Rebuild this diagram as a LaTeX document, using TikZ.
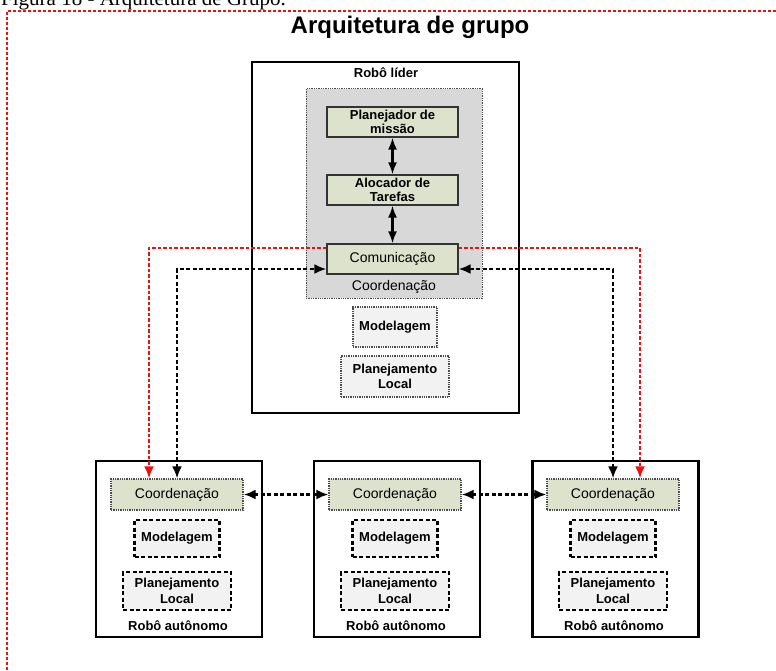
\documentclass[tikz,border=0pt]{standalone}
\usepackage{fontspec}
\setmainfont{Liberation Sans}
\newfontfamily\capfont{Liberation Serif}
\usetikzlibrary{arrows.meta}
\definecolor{olivebox}{RGB}{221,226,205}
\definecolor{coordgray}{RGB}{216,216,216}
\definecolor{lightbox}{RGB}{242,242,242}
\definecolor{linkred}{RGB}{230,20,20}
\begin{document}
\begin{tikzpicture}[x=1pt,y=-1pt,
  robotbox/.style={draw=black,line width=2.2pt,fill=white,rectangle,inner sep=0pt},
  regionbox/.style={draw=black!70,line width=1pt,dash pattern=on 1.3pt off 1pt,fill=coordgray,rectangle,inner sep=0pt},
  taskbox/.style={draw=black!80,line width=1.2pt,fill=olivebox,rectangle,inner sep=0pt,align=center,font=\bfseries\fontsize{13}{15}\selectfont},
  commbox/.style={taskbox,font=\fontsize{14}{15}\selectfont},
  coordbox/.style={draw=black!70,line width=1.2pt,dash pattern=on 1.3pt off 1pt,fill=olivebox,rectangle,inner sep=0pt,font=\fontsize{14}{15}\selectfont},
  softbox/.style={draw=black!70,line width=1.1pt,dash pattern=on 1.3pt off 1pt,fill=lightbox,rectangle,inner sep=0pt,align=center,font=\bfseries\fontsize{13}{15.5}\selectfont},
  hardbox/.style={draw=black,line width=2.2pt,dash pattern=on 4pt off 2.5pt,fill=lightbox,rectangle,inner sep=0pt,align=center,font=\bfseries\fontsize{13}{15.5}\selectfont},
  boxlabel/.style={font=\bfseries\fontsize{13}{15}\selectfont,inner sep=0pt},
  solidlink/.style={line width=2.2pt,{Latex[length=12pt,width=9pt]}-{Latex[length=12pt,width=9pt]}},
  blacklink/.style={line width=2.3pt,dash pattern=on 4pt off 2.5pt},
  redlink/.style={draw=linkred,line width=2.2pt,dash pattern=on 3.5pt off 2pt},
  tip/.style={-{Latex[length=12pt,width=10pt]}},
  bothtips/.style={{Latex[length=12pt,width=10pt]}-{Latex[length=12pt,width=10pt]}}
]
\useasboundingbox (0,0) rectangle (776,671);

% caption line, partly above the page edge
\node[anchor=base west,inner sep=0pt,font=\capfont\fontsize{21}{21}\selectfont] (caption) at (1,6) {Figura 18 - Arquitetura de Grupo.};

% red dotted frame
\draw[draw=linkred,line width=1.6pt,dash pattern=on 3pt off 2pt] (7,700) -- (7,11) -- (790,11);

% title
\node[font=\bfseries\fontsize{24}{26}\selectfont,inner sep=0pt] (title) at (410,27) {Arquitetura de grupo};

% leader robot
\node[robotbox,minimum width=267pt,minimum height=351pt] (leader) at (385.5,237.5) {};
\node[boxlabel] (leaderlbl) at (386,73) {Robô líder};
\node[regionbox,minimum width=176pt,minimum height=209pt] (region) at (394,193.5) {};
\node[taskbox,minimum width=131pt,minimum height=30pt] (plan) at (392.5,122) {Planejador de\\[-1pt]missão};
\node[taskbox,minimum width=131pt,minimum height=30pt] (alloc) at (392.5,190) {Alocador de\\[-1pt]Tarefas};
\node[commbox,minimum width=131pt,minimum height=30pt] (comm) at (392.5,259) {Comunicação};
\node[inner sep=0pt,font=\fontsize{14}{15}\selectfont] (regionlbl) at (394,287) {Coordenação};
\node[softbox,minimum width=84pt,minimum height=40pt] (model0) at (395,327) {Modelagem};
\node[softbox,minimum width=108pt,minimum height=41pt] (local0) at (395,376.5) {Planejamento\\Local};

\draw[solidlink] (plan.south) -- (alloc.north);
\draw[solidlink] (alloc.south) -- (comm.north);

% autonomous robots
\foreach \i/\cx in {1/179,2/397,3/615.5}{
  \node[robotbox,minimum width=166pt,minimum height=176pt] (robot\i) at (\cx,549) {};
}
\foreach \i/\cx in {1/177,2/395,3/613}{
  \node[coordbox,minimum width=132pt,minimum height=31pt] (coord\i) at (\cx,494.5) {Coordenação};
  \node[hardbox,minimum width=85pt,minimum height=37pt] (model\i) at (\cx,538.5) {Modelagem};
  \node[hardbox,minimum width=108pt,minimum height=38pt] (local\i) at (\cx,591) {Planejamento\\Local};
  \node[boxlabel] (robotlbl\i) at (\cx+1,626) {Robô autônomo};
}

% links between the coordination layers
\draw[blacklink,bothtips] (coord1.east) -- (coord2.west);
\draw[blacklink,bothtips] (coord2.east) -- (coord3.west);

% leader communication links
\coordinate (redL) at (149,248);
\coordinate (redR) at (640,248);
\coordinate (blkL) at (177,269);
\coordinate (blkR) at (613,269);

\draw[redlink,tip] (comm.west |- redL) -- (redL) -- (coord1.north -| redL);
\draw[redlink,tip] (comm.east |- redR) -- (redR) -- (coord3.north -| redR);

\draw[blacklink,bothtips] (coord1.north -| blkL) -- (blkL) -- (comm.west |- blkL);
\draw[blacklink,bothtips] (coord3.north -| blkR) -- (blkR) -- (comm.east |- blkR);
\end{tikzpicture}
\end{document}
